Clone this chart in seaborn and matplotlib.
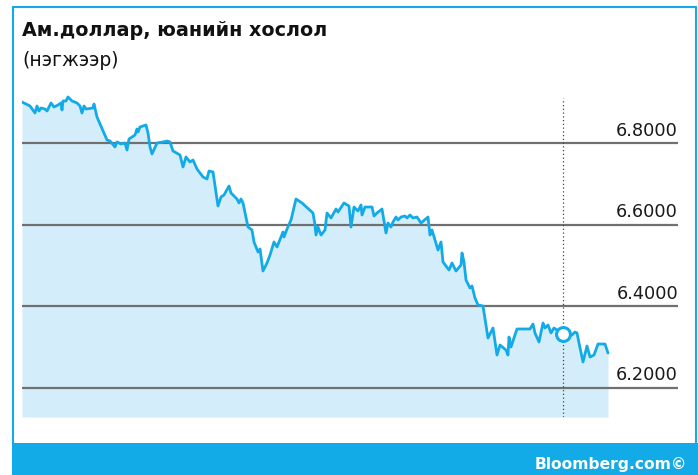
import matplotlib
matplotlib.use("Agg")
import matplotlib.pyplot as plt
from matplotlib.lines import Line2D
from matplotlib.patches import Rectangle
import seaborn as sns
import pandas as pd

# ---- data (USD/CNY) ----
days = [0, 8, 13, 15, 17, 19, 23, 25, 29, 32, 36, 39, 40, 41, 44, 46, 50, 55, 58, 60,
        62, 64, 71, 72, 75, 85, 88, 93, 95, 99, 103, 105, 107, 113, 115, 116, 118, 124,
        126, 128, 130, 135, 141, 145, 148, 151, 158, 161, 164, 168, 171, 175, 181, 185,
        187, 191, 196, 199, 202, 207, 209, 215, 217, 219, 221, 226, 230, 232, 236, 238,
        241, 245, 248, 252, 255, 261, 262, 265, 269, 274, 280, 291, 293, 294, 296, 299,
        303, 305, 309, 314, 316, 322, 327, 329, 332, 336, 339, 340, 343, 350, 352, 355,
        360, 364, 366, 369, 371, 374, 376, 379, 383, 385, 388, 391, 395, 399, 406, 408,
        410, 416, 419, 421, 427, 430, 434, 439, 440, 442, 444, 448, 450, 453, 456, 461,
        466, 471, 475, 478, 484, 486, 487, 489, 495, 508, 511, 513, 517, 521, 523, 526,
        529, 532, 541, 550, 553, 555, 557, 561, 565, 568, 572, 576, 583, 586]
rates = [6.9006, 6.8908, 6.8736, 6.8908, 6.8785, 6.8859, 6.8834, 6.8785, 6.8982, 6.8883,
         6.8933, 6.8982, 6.8810, 6.9031, 6.9031, 6.9129, 6.9031, 6.8982, 6.8908, 6.8736,
         6.8908, 6.8834, 6.8859, 6.8957, 6.8638, 6.8074, 6.8049, 6.7902, 6.8025, 6.7975,
         6.8000, 6.7828, 6.8098, 6.8196, 6.8344, 6.8270, 6.8393, 6.8442, 6.8245, 6.7902,
         6.7730, 6.8000, 6.8025, 6.8049, 6.8025, 6.7804, 6.7706, 6.7411, 6.7656, 6.7534,
         6.7583, 6.7362, 6.7166, 6.7117, 6.7313, 6.7288, 6.6454, 6.6675, 6.6724, 6.6945,
         6.6773, 6.6626, 6.6528, 6.6626, 6.6528, 6.5939, 6.5865, 6.5571, 6.5325, 6.5399,
         6.4859, 6.5055, 6.5252, 6.5571, 6.5448, 6.5816, 6.5693, 6.5890, 6.6110, 6.6626,
         6.6528, 6.6282, 6.5988, 6.5742, 6.5939, 6.5742, 6.5865, 6.6282, 6.6160, 6.6380,
         6.6307, 6.6528, 6.6454, 6.5939, 6.6429, 6.6331, 6.6479, 6.6233, 6.6429, 6.6429,
         6.6209, 6.6282, 6.6380, 6.5791, 6.6037, 6.5939, 6.6061, 6.6184, 6.6110, 6.6184,
         6.6209, 6.6160, 6.6233, 6.6160, 6.6184, 6.6037, 6.6184, 6.5742, 6.5865, 6.5374,
         6.5571, 6.5080, 6.4883, 6.5055, 6.4859, 6.5006, 6.5301, 6.5080, 6.4638, 6.4442,
         6.4491, 6.4196, 6.4025, 6.4000, 6.3215, 6.3460, 6.2797, 6.3043, 6.2920, 6.2797,
         6.3239, 6.2994, 6.3436, 6.3436, 6.3558, 6.3337, 6.3117, 6.3583, 6.3460, 6.3534,
         6.3337, 6.3460, 6.3313, 6.3288, 6.3362, 6.3337, 6.3092, 6.2626, 6.3018, 6.2748,
         6.2797, 6.3067, 6.3067, 6.2846]
marker_day = 541
marker_rate = 6.3313
tick_values = [6.2, 6.4, 6.6, 6.8]
tick_labels = ["6.2000", "6.4000", "6.6000", "6.8000"]
title = "Ам.доллар, юанийн хослол"
subtitle = "(нэгжээр)"
source = "Bloomberg.com©"

BLUE = "#12ABE8"
FILL = "#D4EDFA"
GRID = "#707070"

df = pd.DataFrame({"day": days, "rate": rates})

W, H = 698, 475
fig = plt.figure(figsize=(W / 100, H / 100), dpi=100)
sns.set_style("white")
plt.rcParams["font.family"] = ["DejaVu Sans"]

ax = fig.add_axes([22 / W, (H - 417) / H, (678 - 22) / W, (417 - 90) / H])
ymin = 6.8 - (417 - 143) * 0.2 / 81.5
ymax = 6.8 + (143 - 90) * 0.2 / 81.5
ax.set_xlim(0, 656)
ax.set_ylim(ymin, ymax)

ax.fill_between(df["day"], df["rate"], ymin, color=FILL, lw=0, zorder=1)
for v, lab in zip(tick_values, tick_labels):
    ax.axhline(v, color=GRID, lw=1.6, zorder=2)
    ax.text(656, v + 0.008, lab, ha="right", va="bottom", fontsize=12.8,
            color="#1a1a1a", zorder=4)
ax.vlines(marker_day, ymin, 6.8 + (143 - 98) * 0.2 / 81.5, color="#444444",
          lw=0.9, linestyles=(0, (1, 2)), zorder=2.5)
sns.lineplot(data=df, x="day", y="rate", ax=ax, color=BLUE, lw=2.0, zorder=3)
ax.plot([marker_day], [marker_rate], marker="o", ms=10, mfc="white", mec=BLUE,
        mew=2.2, zorder=5)

ax.set_axis_off()

# frame and footer
fig.add_artist(Line2D([12.5 / W, 12.5 / W], [(H - 7) / H, (H - 443) / H], color=BLUE, lw=1.5))
fig.add_artist(Line2D([12.5 / W, 696 / W], [(H - 7) / H, (H - 7) / H], color=BLUE, lw=1.5))
fig.add_artist(Line2D([696 / W, 696 / W], [(H - 7) / H, (H - 443) / H], color=BLUE, lw=1.5))
fig.add_artist(Rectangle((12 / W, 0), 1 - 12 / W, (H - 443) / H, transform=fig.transFigure,
                         color=BLUE, lw=0))

fig.text(22 / W, (H - 36) / H, title, fontsize=13.8, fontweight="bold", color="#111111",
         ha="left", va="baseline")
fig.text(22 / W, (H - 66) / H, subtitle, fontsize=13.5, color="#111111",
         ha="left", va="baseline")
fig.text(687 / W, (H - 469) / H, source, fontsize=11.2, fontweight="bold", color="white",
         ha="right", va="baseline")

fig.savefig("out.png", dpi=100)
